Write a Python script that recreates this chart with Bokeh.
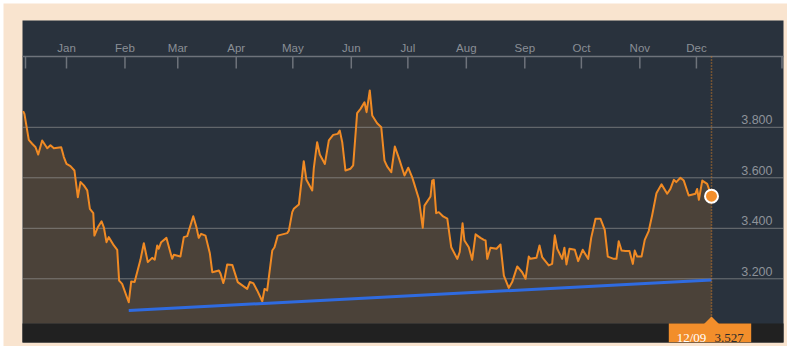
import pandas as pd
from bokeh.plotting import figure
from bokeh.models import Range1d, ColumnDataSource
from bokeh.core.properties import value
from bokeh.embed import file_html
from bokeh.resources import INLINE

# ---------------- data ----------------
BASE_DATE = "2014-01-01"
# days since 2014-01-01
day_offsets = [
    -23.0, -22.3, -20.0, -18.2, -16.4, -15.0, -12.9, -10.2, -8.5, -6.7,
    -2.8, -1.4, 0.0, 2.1, 4.2, 6.0, 7.4, 9.2, 11.0, 12.4,
    14.2, 14.8, 16.6, 18.6, 19.8, 21.2, 22.4, 25.1, 26.9, 27.9,
    29.5, 33.0, 34.3, 36.1, 39.2, 41.0, 43.1, 45.4, 46.8, 48.1,
    48.9, 50.2, 53.0, 56.0, 56.9, 60.4, 62.2, 64.0, 67.2, 68.9,
    70.1, 71.4, 73.7, 76.0, 77.3, 80.8, 81.7, 83.1, 83.8, 85.2,
    87.9, 90.8, 95.8, 97.2, 99.0, 101.1, 103.8, 105.0, 106.4, 109.1,
    110.3, 112.0, 117.0, 117.9, 119.7, 120.5, 123.2, 125.8, 127.2, 130.3,
    131.1, 132.9, 134.3, 137.0, 139.1, 141.4, 143.8, 144.9, 146.2, 147.9,
    150.6, 152.0, 154.1, 155.9, 158.0, 159.1, 160.8, 162.1, 164.7, 166.9,
    168.6, 170.0, 172.2, 174.1, 176.2, 179.2, 181.2, 183.3, 184.1, 186.8,
    188.9, 189.8, 193.0, 193.9, 194.7, 196.0, 197.4, 199.7, 201.9, 204.0,
    207.2, 208.5, 210.0, 211.0, 213.3, 215.1, 216.9, 219.5, 221.3, 222.2,
    223.1, 224.8, 228.0, 230.1, 231.9, 234.5, 236.3, 239.0, 241.6, 243.4,
    245.1, 246.0, 249.2, 250.8, 252.2, 255.7, 257.5, 258.9, 260.2, 262.8,
    264.0, 265.1, 266.7, 269.5, 271.3, 273.7, 276.6, 278.2, 280.5, 283.1,
    285.4, 287.0, 290.2, 291.6, 292.8, 294.3, 296.4, 298.5, 300.3, 301.3,
    302.6, 304.9, 306.6, 308.7, 310.5, 312.8, 315.5, 318.5, 320.2, 322.0,
    323.3, 325.5, 327.3, 329.9, 333.5, 334.4, 335.3, 337.1, 339.7, 342.0,
]
yield_values = [
    3.864, 3.853, 3.750, 3.735, 3.721, 3.692, 3.748, 3.717, 3.729, 3.717,
    3.721, 3.682, 3.655, 3.646, 3.629, 3.523, 3.583, 3.570, 3.550, 3.477,
    3.460, 3.371, 3.404, 3.428, 3.404, 3.345, 3.365, 3.332, 3.315, 3.193,
    3.180, 3.107, 3.189, 3.187, 3.275, 3.341, 3.266, 3.283, 3.276, 3.332,
    3.319, 3.345, 3.362, 3.279, 3.295, 3.288, 3.365, 3.369, 3.448, 3.404,
    3.362, 3.378, 3.371, 3.301, 3.226, 3.233, 3.220, 3.183, 3.200, 3.257,
    3.255, 3.187, 3.160, 3.187, 3.183, 3.154, 3.111, 3.160, 3.154, 3.312,
    3.325, 3.371, 3.381, 3.391, 3.464, 3.477, 3.494, 3.666, 3.592, 3.550,
    3.636, 3.741, 3.692, 3.655, 3.748, 3.770, 3.774, 3.787, 3.741, 3.629,
    3.636, 3.649, 3.856, 3.873, 3.899, 3.860, 3.946, 3.847, 3.816, 3.800,
    3.668, 3.645, 3.622, 3.724, 3.679, 3.609, 3.640, 3.602, 3.583, 3.517,
    3.402, 3.490, 3.526, 3.589, 3.592, 3.460, 3.464, 3.447, 3.438, 3.325,
    3.279, 3.306, 3.420, 3.352, 3.325, 3.275, 3.376, 3.362, 3.354, 3.352,
    3.279, 3.323, 3.319, 3.336, 3.213, 3.164, 3.187, 3.249, 3.226, 3.200,
    3.288, 3.279, 3.283, 3.332, 3.286, 3.253, 3.259, 3.372, 3.319, 3.279,
    3.323, 3.257, 3.319, 3.315, 3.270, 3.315, 3.279, 3.362, 3.438, 3.438,
    3.394, 3.288, 3.279, 3.279, 3.349, 3.312, 3.310, 3.310, 3.259, 3.312,
    3.288, 3.288, 3.354, 3.389, 3.451, 3.539, 3.574, 3.537, 3.556, 3.592,
    3.583, 3.600, 3.589, 3.530, 3.537, 3.556, 3.513, 3.589, 3.576, 3.527,
]
month_labels = ["Jan", "Feb", "Mar", "Apr", "May", "Jun",
                "Jul", "Aug", "Sep", "Oct", "Nov", "Dec"]
month_starts = ["2014-01-01", "2014-02-01", "2014-03-01", "2014-04-01",
                "2014-05-01", "2014-06-01", "2014-07-01", "2014-08-01",
                "2014-09-01", "2014-10-01", "2014-11-01", "2014-12-01"]
y_ticks = [3.2, 3.4, 3.6, 3.8]
y_tick_labels = ["3.200", "3.400", "3.600", "3.800"]
last_date_label = "12/09"
last_value_label = "3.527"
trend_days = [33.0, 342.0]
trend_values = [3.0745, 3.195]

# ---------------- layout helpers (screen px -> data) ----------------
base = pd.Timestamp(BASE_DATE)
PX_PER_DAY = 1.886
PX_PER_UNIT = 252.5
W, H = 787, 346


def tx(px):
    return base + pd.to_timedelta((px - 66.0) / PX_PER_DAY, unit="D")


def ty(py):
    return 3.2 + (278.3 - py) / PX_PER_UNIT


def dday(d):
    return base + pd.to_timedelta(d, unit="D")


dates = [dday(d) for d in day_offsets]
last_date = dates[-1]
last_val = yield_values[-1]

PANEL_L, PANEL_R = tx(22), tx(783)
PANEL_T, PANEL_B = ty(20), ty(342)
PLOT_B = ty(323)
AXIS_Y = ty(56)

p = figure(width=W, height=H,
           x_range=Range1d(tx(0), tx(W)), y_range=Range1d(ty(H), ty(0)),
           x_axis_location=None, y_axis_location=None,
           output_backend="svg", toolbar_location=None, min_border=0)
p.outline_line_color = None
p.grid.visible = False
p.background_fill_color = "white"
p.border_fill_color = "white"

# dotted (peach) outer background
p.quad(left=tx(3), right=tx(W), bottom=ty(H), top=ty(3),
       fill_color="#f9e4cf", line_color=None)

# dark panel
p.quad(left=PANEL_L, right=PANEL_R, bottom=PANEL_B, top=PANEL_T,
       fill_color="#29323d", line_color=None)
# bottom strip
p.quad(left=PANEL_L, right=PANEL_R, bottom=PANEL_B, top=PLOT_B,
       fill_color="#212121", line_color=None)

src = ColumnDataSource(dict(x=dates, y=yield_values, base=[PLOT_B] * len(dates)))
p.varea(x="x", y1="base", y2="y", source=src, fill_color="#4b4239")

# gridlines
for v in y_ticks:
    p.line([PANEL_L, PANEL_R], [v, v], line_color="#a0a0a0", line_alpha=0.6, line_width=1)

# right labels
p.text(x=[tx(772)] * len(y_ticks), y=[v + 7.5 / PX_PER_UNIT for v in y_ticks],
       text=y_tick_labels, text_align="right", text_baseline="alphabetic",
       text_color="#8e939a", text_font=value("Liberation Sans"),
       text_font_size="12.5px")

# top axis
p.line([PANEL_L, PANEL_R], [AXIS_Y, AXIS_Y], line_color="#6e737b", line_width=1.5)
mdates = [pd.Timestamp(m) for m in month_starts]
tick_x = [tx(25)] + mdates + [tx(781.5)]
p.segment(x0=tick_x, y0=[AXIS_Y] * len(tick_x), x1=tick_x, y1=[ty(68)] * len(tick_x),
          line_color="#6e737b", line_width=1.5)
p.text(x=mdates, y=[ty(47.5)] * len(mdates), text=month_labels,
       text_align="center", text_baseline="alphabetic",
       text_color="#8a8f96", text_font=value("Liberation Sans"),
       text_font_size="11.5px")

# price line
p.line(x="x", y="y", source=src, line_color="#f08a24", line_width=2, line_join="round")

# trend line
p.line([dday(d) for d in trend_days], trend_values,
       line_color="#2f6be0", line_width=3)

# vertical dotted marker
p.segment(x0=[last_date], y0=[AXIS_Y], x1=[last_date], y1=[ty(318)],
          line_color="#c07528", line_width=1.5, line_dash="1 2")

# bottom label box
p.quad(left=tx(668.3), right=tx(750.7), bottom=ty(341.7), top=PLOT_B,
       fill_color="#f28e2b", line_color=None)
half = pd.to_timedelta(7.5 / PX_PER_DAY, unit="D")
p.patch(x=[last_date - half, last_date, last_date + half],
        y=[PLOT_B - 0.5 / PX_PER_UNIT, ty(316), PLOT_B - 0.5 / PX_PER_UNIT],
        fill_color="#f28e2b", line_color=None)
p.text(x=[tx(691)], y=[ty(337)], text=[last_date_label], text_align="center",
       text_baseline="alphabetic", text_color="white",
       text_font=value("Liberation Serif"), text_font_size="13px")
p.text(x=[tx(728.5)], y=[ty(337)], text=[last_value_label], text_align="center",
       text_baseline="alphabetic", text_color="#2a2a2a",
       text_font=value("Liberation Serif"), text_font_size="13px")

# last point
p.scatter(x=[last_date], y=[last_val], size=13, fill_color="#f28e2b",
          line_color="white", line_width=2)

open("out.html", "w").write(file_html(p, INLINE))
